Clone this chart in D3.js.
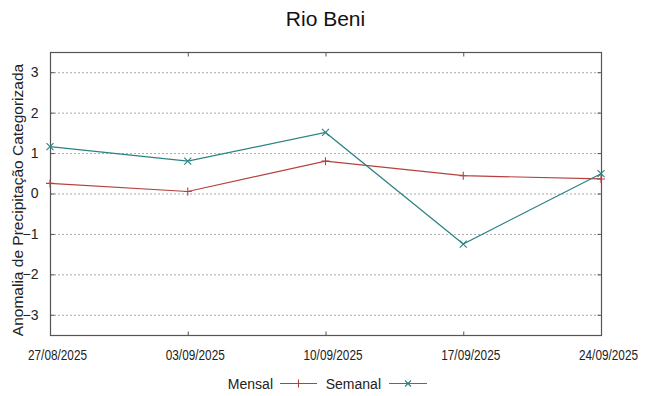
<!DOCTYPE html>
<html><head><meta charset="utf-8">
<script src="https://cdn.jsdelivr.net/npm/d3@7"></script>
<style>body{margin:0;background:#fff}svg{display:block}text{font-family:"Liberation Sans",Arial,sans-serif}</style>
</head><body>
<svg id="c" width="649" height="396"></svg>
<script>
const title = "Rio Beni";
const yLabel = "Anomalia de Precipitação Categorizada";
const dates = ["27/08/2025","03/09/2025","10/09/2025","17/09/2025","24/09/2025"];
const mensal = [0.25, 0.05, 0.80, 0.44, 0.36];
const semanal = [1.16, 0.80, 1.51, -1.25, 0.49];
const yTicks = [-3,-2,-1,0,1,2,3];
const seriesNames = ["Mensal","Semanal"];
const colors = ["#b5413f","#2a8282"];

const svg = d3.select("#c");
const m = {l:50, r:601, t:52, b:335};
const x = d3.scalePoint().domain(dates).range([m.l, m.r]);
const y = d3.scaleLinear().domain([-3.5,3.5]).range([m.b, m.t]);

// grid
svg.append("g").selectAll("line").data(yTicks).join("line")
  .attr("x1", m.l).attr("x2", m.r).attr("y1", d=>y(d)+0.5).attr("y2", d=>y(d)+0.5)
  .attr("stroke","#a8a8a8").attr("stroke-width",1).attr("stroke-dasharray","2,2");

// axes
const yl = d3.axisLeft(y).tickValues(yTicks).tickSize(-4).tickPadding(12).tickFormat(d3.format("d"));
const gL = svg.append("g").attr("transform",`translate(${m.l+0.5},0)`).call(yl);
gL.selectAll("text").attr("font-size",14).attr("fill","#222").attr("font-family","Liberation Sans, Arial, sans-serif");
const yr = d3.axisRight(y).tickValues(yTicks).tickSize(-4).tickFormat("");
const gR = svg.append("g").attr("transform",`translate(${m.r+0.5},0)`).call(yr);
const xb = d3.axisBottom(x).tickSize(-4).tickPadding(15);
const gB = svg.append("g").attr("transform",`translate(0,${m.b+0.5})`).call(xb);
gB.selectAll("text").attr("font-size",14).attr("fill","#222").attr("dx",7)
  .attr("font-family","Liberation Sans Narrow, Liberation Sans, Arial, sans-serif")
  .attr("textLength",59).attr("lengthAdjust","spacingAndGlyphs");
const xt = d3.axisTop(x).tickSize(-4).tickFormat("");
const gT = svg.append("g").attr("transform",`translate(0,${m.t+0.5})`).call(xt);
[gL,gR,gB,gT].forEach(g=>{g.select(".domain").remove(); g.selectAll("line").attr("stroke","#555");});

// frame
svg.append("rect").attr("x",m.l+0.5).attr("y",m.t+0.5).attr("width",m.r-m.l).attr("height",m.b-m.t)
  .attr("fill","none").attr("stroke","#555").attr("stroke-width",1.2);

// series
const line = d3.line().x((d,i)=>x(dates[i])).y(d=>y(d));
[mensal, semanal].forEach((s,k)=>{
  svg.append("path").datum(s).attr("d",line).attr("fill","none").attr("stroke",colors[k]).attr("stroke-width",1.2);
  svg.append("g").selectAll("path").data(s).join("path")
    .attr("transform",(d,i)=>`translate(${x(dates[i])},${y(d)})`)
    .attr("d", k===0 ? "M-4,0H4M0,-4V4" : "M-3.5,-3.5L3.5,3.5M-3.5,3.5L3.5,-3.5")
    .attr("stroke",colors[k]).attr("stroke-width",1.1).attr("fill","none");
});

// title
svg.append("text").attr("x",(m.l+m.r)/2).attr("y",26).attr("text-anchor","middle")
  .attr("font-size",21).attr("fill","#111").text(title);
// y label
svg.append("text").attr("transform",`translate(23,200) rotate(-90)`).attr("text-anchor","middle")
  .attr("font-size",15.5).attr("fill","#222").text(yLabel);

// legend
const lg = svg.append("g");
const leg = [{name:seriesNames[0], tx:273, lx1:280, lx2:317, mk:"M-4,0H4M0,-4V4"},
             {name:seriesNames[1], tx:381, lx1:389, lx2:427, mk:"M-3,-3L3,3M-3,3L3,-3"}];
leg.forEach((l,k)=>{
  lg.append("text").attr("x",l.tx).attr("y",389).attr("text-anchor","end").attr("font-size",14).attr("fill","#222").text(l.name);
  lg.append("line").attr("x1",l.lx1).attr("x2",l.lx2).attr("y1",383.5).attr("y2",383.5).attr("stroke",colors[k]).attr("stroke-width",1.2);
  lg.append("path").attr("transform",`translate(${(l.lx1+l.lx2)/2},383.5)`).attr("d",l.mk).attr("stroke",colors[k]).attr("stroke-width",1.1);
});
</script>
</body></html>
